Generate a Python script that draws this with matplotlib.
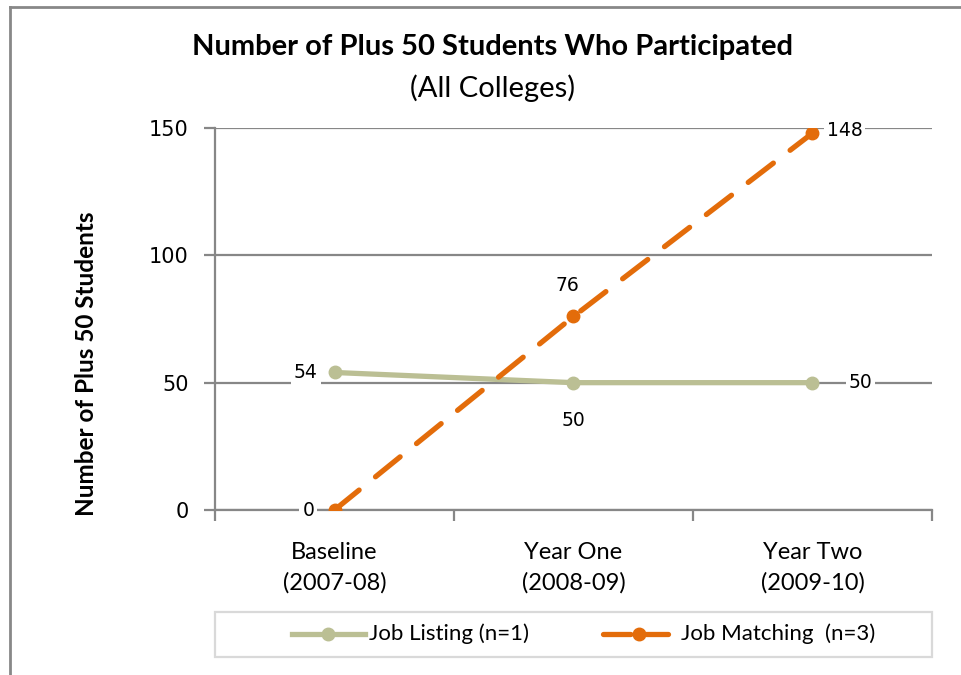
import matplotlib.pyplot as plt
from matplotlib.lines import Line2D
from matplotlib.patches import Rectangle

# data
periods = ['Baseline\n(2007-08)', 'Year One\n(2008-09)', 'Year Two\n(2009-10)']
series_names = ['Job Listing (n=1)', 'Job Matching  (n=3)']
job_listing = [54, 50, 50]
job_matching = [0, 76, 148]

green = '#BBBF94'
orange = '#E36C0A'
grid_gray = '#878787'

fig = plt.figure(figsize=(9.62, 6.75), dpi=100)
ax = fig.add_axes([215/962, 1 - 510/675, 717/962, 382/675])

x = [i + 0.5 for i in range(len(periods))]
ax.plot(x, job_listing, color=green, lw=3.8, marker='o', ms=9,
        solid_capstyle='round', zorder=3)
ax.plot(x, job_matching, color=orange, lw=3.8, marker='o', ms=9,
        dashes=(6, 4), dash_capstyle='round', zorder=4)

ax.set_xlim(0, 3)
ax.set_ylim(0, 150)
ax.set_yticks([0, 50, 100, 150])
ax.set_xticks([0, 1, 2, 3])
ax.set_xticklabels([])
ax.yaxis.grid(True, color=grid_gray, lw=1.6)
ax.set_axisbelow(True)
for s in ['top', 'right']:
    ax.spines[s].set_visible(False)
for s in ['left', 'bottom']:
    ax.spines[s].set_color(grid_gray)
    ax.spines[s].set_linewidth(1.6)
ax.tick_params(axis='both', direction='out', length=8, width=1.6,
               color=grid_gray, labelsize=15, pad=11)
for lab in ax.get_yticklabels():
    lab.set_fontfamily('DejaVu Sans')

# category labels
for xi, p in zip(x, periods):
    ax.text(xi, -12.5, p, ha='center', va='top', fontsize=17,
            family='Lato', linespacing=1.5)

# data labels
box = dict(facecolor='white', edgecolor='none', pad=2)
lbl = dict(fontsize=13.5, family='DejaVu Sans', bbox=box, zorder=5)
ax.text(x[0] - 0.07, job_listing[0], str(job_listing[0]), ha='right', va='center', **lbl)
ax.text(x[1], job_listing[1] - 15, str(job_listing[1]), ha='center', va='center', **lbl)
ax.text(x[2] + 0.15, job_listing[2], str(job_listing[2]), ha='left', va='center', **lbl)
ax.text(x[0] - 0.085, job_matching[0], str(job_matching[0]), ha='right', va='center', **lbl)
ax.text(x[1] - 0.025, job_matching[1] + 12, str(job_matching[1]), ha='center', va='center', **lbl)
ax.text(x[2] + 0.06, job_matching[2] + 1, str(job_matching[2]), ha='left', va='center', **lbl)

ax.set_ylabel('Number of Plus 50 Students', fontsize=17.5, family='Lato',
              fontweight='bold')
ax.yaxis.set_label_coords(-117/717, (510 - 364)/382)

fig.text(493/962, 1 - 47/675, 'Number of Plus 50 Students Who Participated',
         ha='center', va='center', fontsize=21, family='Lato', fontweight='bold')
fig.text(493/962, 1 - 88/675, '(All Colleges)', ha='center', va='center',
         fontsize=21, family='Lato')

# legend (drawn by hand to match the wide box)
W, H = 962, 675
fig.add_artist(Rectangle((215/W, 1 - 657/H), 717/W, 45/H, transform=fig.transFigure,
                         facecolor='white', edgecolor='#D9D9D9', lw=1.6))
ly = 1 - 634/H
fig.add_artist(Line2D([292/W, 365/W], [ly, ly], color=green, lw=3.8))
fig.add_artist(Line2D([328/W], [ly], color=green, marker='o', ms=9))
fig.text(369/W, ly, series_names[0], ha='left', va='center', fontsize=16, family='Lato')
fig.add_artist(Line2D([603/W, 668/W], [ly, ly], color=orange, lw=3.8,
                      dashes=(5.2, 2.6), dash_capstyle='round'))
fig.add_artist(Line2D([639/W], [ly], color=orange, marker='o', ms=9))
fig.text(681/W, ly, series_names[1], ha='left', va='center', fontsize=16, family='Lato')

# chart border
fig.add_artist(Line2D([10/W, 1], [1 - 7/H, 1 - 7/H], color='#888888', lw=2))
fig.add_artist(Line2D([10/W, 10/W], [0, 1 - 7/H], color='#888888', lw=2))

fig.savefig('out.png', dpi=100, facecolor='white')
